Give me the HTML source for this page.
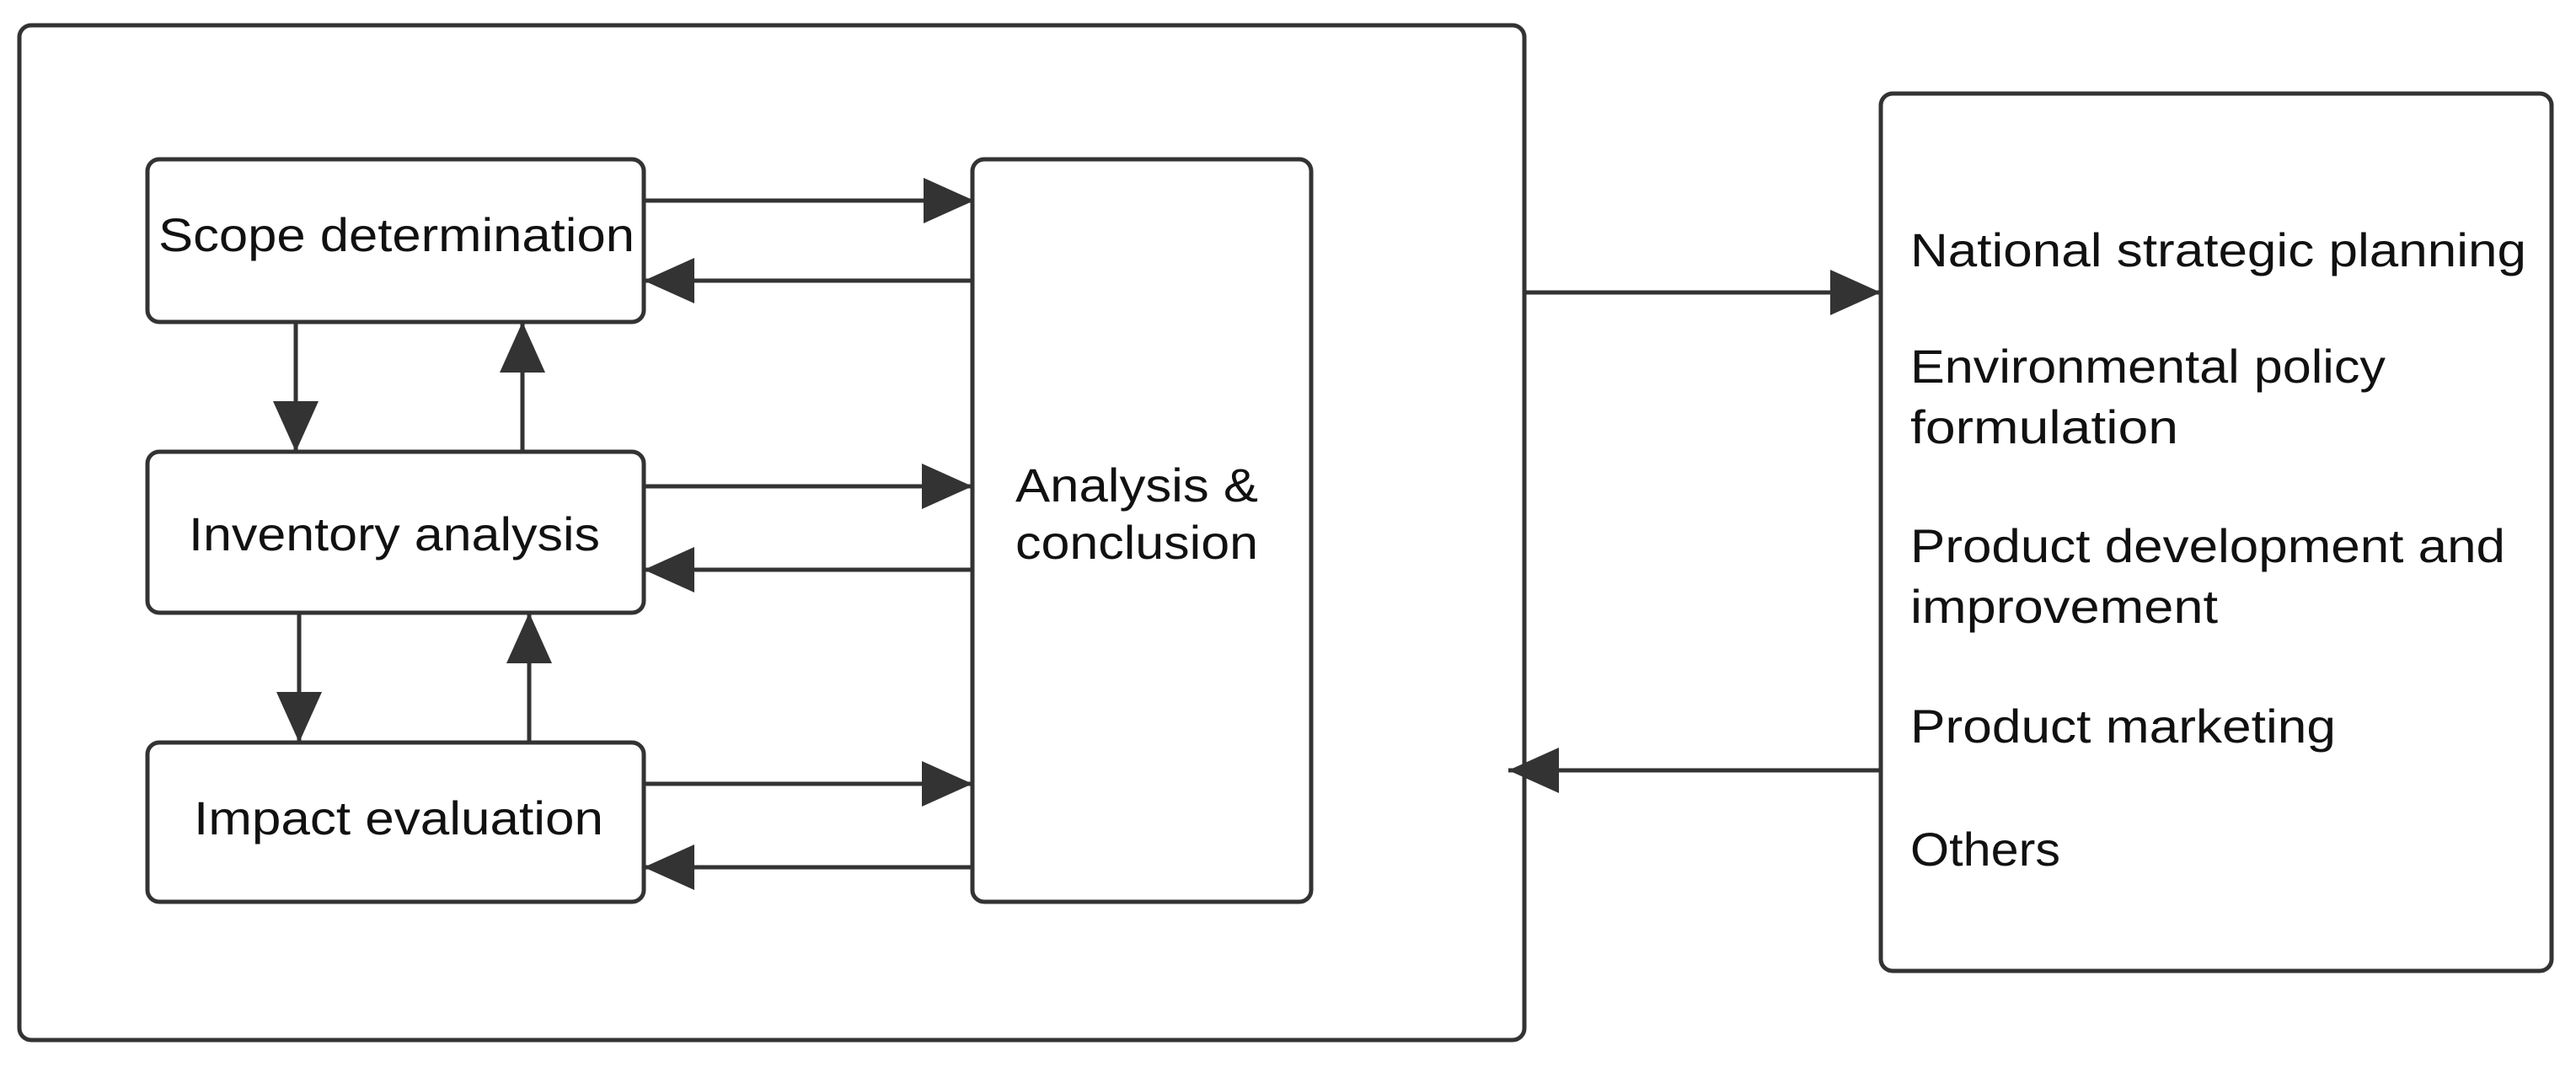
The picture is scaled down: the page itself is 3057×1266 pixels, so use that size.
<!DOCTYPE html>
<html><head><meta charset="utf-8"><style>html,body{margin:0;padding:0;background:#fff}svg{display:block}</style></head><body>
<svg width="3057" height="1266" viewBox="0 0 3057 1266" xmlns="http://www.w3.org/2000/svg">
<defs>
<marker id="a" markerUnits="userSpaceOnUse" markerWidth="62" markerHeight="54" refX="60" refY="27" orient="auto">
<path d="M0,0 L60,27 L0,54 Z" fill="#333"/>
</marker>
</defs>
<g fill="none" stroke="#333" stroke-width="5">
<rect x="23" y="30" width="1786" height="1204" rx="14"/>
<rect x="175" y="189" width="589" height="193" rx="14"/>
<rect x="175" y="536" width="589" height="191" rx="14"/>
<rect x="175" y="881" width="589" height="189" rx="14"/>
<rect x="1154" y="189" width="402" height="881" rx="14"/>
<rect x="2232" y="111" width="796" height="1041" rx="14"/>
</g>
<g stroke="#333" stroke-width="5" marker-end="url(#a)">
<line x1="764" y1="238" x2="1156" y2="238"/>
<line x1="1154" y1="333" x2="764" y2="333"/>
<line x1="764" y1="577" x2="1154" y2="577"/>
<line x1="1154" y1="676" x2="764" y2="676"/>
<line x1="764" y1="930" x2="1154" y2="930"/>
<line x1="1154" y1="1029" x2="764" y2="1029"/>
<line x1="351" y1="382" x2="351" y2="536"/>
<line x1="620" y1="536" x2="620" y2="382"/>
<line x1="355" y1="727" x2="355" y2="881"/>
<line x1="628" y1="881" x2="628" y2="727"/>
<line x1="1809" y1="347" x2="2232" y2="347"/>
<line x1="2232" y1="914" x2="1790" y2="914"/>
</g>
<g font-family="'Liberation Sans', sans-serif" font-size="56" fill="#111" lengthAdjust="spacingAndGlyphs">
<text x="188" y="298" textLength="565" lengthAdjust="spacingAndGlyphs">Scope determination</text>
<text x="224" y="653" textLength="488" lengthAdjust="spacingAndGlyphs">Inventory analysis</text>
<text x="230" y="990" textLength="486" lengthAdjust="spacingAndGlyphs">Impact evaluation</text>
<text x="1205" y="595" textLength="288" lengthAdjust="spacingAndGlyphs">Analysis &amp;</text>
<text x="1205" y="663" textLength="288" lengthAdjust="spacingAndGlyphs">conclusion</text>
<text x="2267" y="316" textLength="731" lengthAdjust="spacingAndGlyphs">National strategic planning</text>
<text x="2267" y="454" textLength="564" lengthAdjust="spacingAndGlyphs">Environmental policy</text>
<text x="2267" y="526" textLength="318" lengthAdjust="spacingAndGlyphs">formulation</text>
<text x="2267" y="667" textLength="706" lengthAdjust="spacingAndGlyphs">Product development and</text>
<text x="2267" y="739" textLength="365" lengthAdjust="spacingAndGlyphs">improvement</text>
<text x="2267" y="881" textLength="505" lengthAdjust="spacingAndGlyphs">Product marketing</text>
<text x="2267" y="1027" textLength="178" lengthAdjust="spacingAndGlyphs">Others</text>
</g>
</svg>
</body></html>
